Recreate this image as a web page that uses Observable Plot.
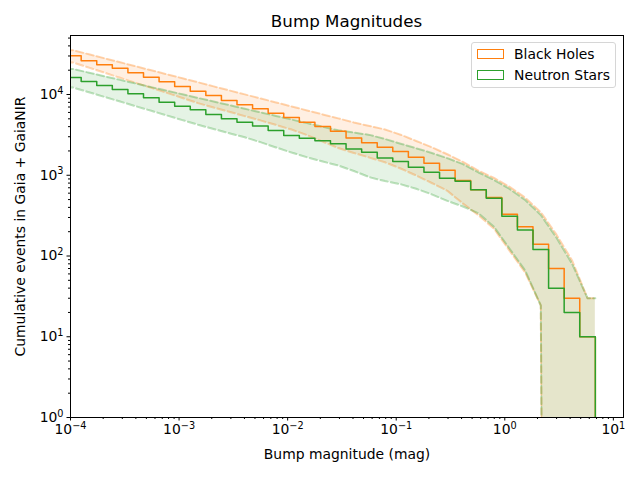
<!DOCTYPE html>
<html>
<head>
<meta charset="utf-8">
<script src="https://cdn.jsdelivr.net/npm/d3@7"></script>
<script src="https://cdn.jsdelivr.net/npm/@observablehq/plot@0.6"></script>
<style>
  body { margin: 0; background: #fff; }
  #wrap { position: relative; width: 640px; height: 480px; font-family: "DejaVu Sans", sans-serif; color: #000; }
  #title { position: absolute; left: 70px; width: 553px; top: 11px; text-align: center; font-size: 16.7px; line-height: 20px; }
  #legend { position: absolute; left: 471px; top: 42px; width: 145px; height: 46px; box-sizing: border-box;
            border: 1px solid #d6d6d6; border-radius: 3px; background: rgba(255,255,255,0.8); font-size: 13.9px; }
  .row { position: absolute; left: 5px; height: 20px; line-height: 20px; white-space: nowrap; }
  .patch { position: absolute; left: 0; top: 5px; width: 27px; height: 10px; box-sizing: border-box; border: 1.5px solid; }
  .lab { position: absolute; left: 37px; top: 0; }
</style>
</head>
<body>
<div id="wrap">
  <div id="title">Bump Magnitudes</div>
  <div id="legend"></div>
</div>
<script>
// ---- data ----
const binEdges = [9.01e-5, 1.254e-4, 1.745e-4, 2.428e-4, 3.380e-4, 4.703e-4, 6.545e-4, 9.109e-4,
  1.268e-3, 1.764e-3, 2.455e-3, 3.416e-3, 4.754e-3, 6.616e-3, 9.205e-3, 0.01281, 0.01783, 0.02481,
  0.03452, 0.04804, 0.06685, 0.09298, 0.1294, 0.1801, 0.2506, 0.3487, 0.4852, 0.6752, 0.9395,
  1.307, 1.819, 2.532, 3.523, 4.902, 6.823];

const seriesNames = ["Black Holes", "Neutron Stars"];
const seriesColors = ["#ff7f0e", "#2ca02c"];

const blackHoles = [30100, 26100, 23300, 21200, 18600, 16400, 14400, 12600, 11000, 9700, 8430, 7450,
  6650, 5870, 5190, 4540, 4020, 3510, 2900, 2520, 2220, 1970, 1670, 1410, 1150, 860, 660, 530, 330,
  230, 140, 70, 30, 10];
const blackHolesUpper = [35260, 31460, 28070, 25050, 22350, 19940, 17790, 15870, 14160, 12600, 11240,
  10030, 8950, 7980, 7120, 6350, 5670, 5060, 4510, 4070, 3690, 3180, 2660, 2220, 1820, 1465, 1140,
  925, 720, 527, 348, 185, 88.7, 30];
const blackHolesLower = [24830, 21530, 18620, 16100, 13960, 12070, 10470, 9060, 7820, 6900, 6110,
  5400, 4780, 4200, 3680, 3140, 2610, 2175, 1890, 1655, 1447, 1213, 993, 802, 642, 447, 319, 217,
  116, 62.3, 24.4, 0, 0, 0];

const neutronStars = [16250, 14500, 12900, 11500, 10200, 9100, 8030, 7170, 6470, 5650, 5000, 4540,
  4060, 3580, 3100, 2870, 2670, 2450, 2120, 1930, 1630, 1480, 1260, 1090, 920, 845, 660, 520, 310,
  210, 120, 40, 20, 10];
const neutronStarsUpper = [20640, 18630, 16800, 15170, 13690, 12350, 11140, 10050, 9070, 8180, 7390,
  6660, 6010, 5430, 4900, 4420, 3990, 3600, 3375, 3160, 2810, 2460, 2160, 1890, 1627, 1375, 1082,
  874, 676, 493, 322, 169, 80.7, 30];
const neutronStarsLower = [12170, 10670, 9340, 8180, 7160, 6280, 5500, 4820, 4220, 3740, 3320, 2950,
  2570, 2210, 1910, 1670, 1480, 1320, 1130, 946, 847, 775, 680, 581, 481, 410, 338, 229, 123, 66,
  24.4, 0, 0, 0];

const xTickValues = [1e-4, 1e-3, 1e-2, 1e-1, 1, 10];
const yTickValues = [1, 10, 100, 1000, 10000];

// ---- build tables ----
const FLOOR = 1e-30; // non-positive values are clipped far below the axis, like matplotlib
const pos = v => (v > 0 ? v : FLOOR);

function stepTable(values) {
  const pts = values.map((v, i) => ({x: binEdges[i], y: v}));
  const last = binEdges[binEdges.length - 1];
  pts.push({x: last, y: values[values.length - 1]});
  pts.push({x: last, y: 0});
  return pts;
}
function bandTable(lo, hi) {
  const pts = [{x: binEdges[0], lo: lo[0], hi: hi[0]}];
  for (let i = 0; i < lo.length; i++) {
    pts.push({x: Math.sqrt(binEdges[i] * binEdges[i + 1]), lo: lo[i], hi: hi[i]});
  }
  pts.push({x: binEdges[binEdges.length - 1], lo: lo[lo.length - 1], hi: hi[hi.length - 1]});
  return pts;
}
const series = [
  {name: seriesNames[0], color: seriesColors[0], step: stepTable(blackHoles), band: bandTable(blackHolesLower, blackHolesUpper)},
  {name: seriesNames[1], color: seriesColors[1], step: stepTable(neutronStars), band: bandTable(neutronStarsLower, neutronStarsUpper)}
];

const minorTicks = (majors, top) => {
  const out = [];
  majors.forEach(m => { for (let k = 2; k <= 9; k++) if (m * k <= top) out.push(m * k); });
  return out;
};
const xDomain = [1e-4, 12.4];
const yDomain = [1, 53800];

const supFmt = d => "10^" + Math.round(Math.log10(d));

const marks = [];
series.forEach(s => {
  marks.push(Plot.areaY(s.band, {x: "x", y1: d => pos(d.lo), y2: d => pos(d.hi), fill: s.color, fillOpacity: 0.12, clip: true}));
});
series.forEach(s => {
  for (const key of ["hi", "lo"]) {
    marks.push(Plot.line(s.band, {x: "x", y: d => pos(d[key]), stroke: s.color, strokeOpacity: 0.32,
      strokeWidth: 2, strokeDasharray: "7.4,3.2", clip: true}));
  }
});
series.forEach(s => {
  marks.push(Plot.line(s.step, {x: "x", y: d => pos(d.y), stroke: s.color, strokeWidth: 1.5, curve: "step-after", clip: true}));
});
marks.push(
  Plot.axisX({ticks: minorTicks(xTickValues.slice(0, -1), xDomain[1]), tickSize: 2, tickFormat: () => "", label: null}),
  Plot.axisX({ticks: xTickValues, tickSize: 3.5, tickPadding: 3.5, tickFormat: supFmt, fontSize: 13.9,
    label: "Bump magnitude (mag)", labelAnchor: "center", labelArrow: "none", labelOffset: 41}),
  Plot.axisY({ticks: minorTicks(yTickValues, yDomain[1]), tickSize: 2, tickFormat: () => "", label: null}),
  Plot.axisY({ticks: yTickValues, tickSize: 3.5, tickPadding: 3.5, tickFormat: supFmt, fontSize: 13.9,
    label: "Cumulative events in Gaia + GaiaNIR", labelAnchor: "center", labelArrow: "none", labelOffset: 55}),
  Plot.frame({stroke: "#000", strokeWidth: 1})
);

const chart = Plot.plot({
  width: 640, height: 480,
  marginLeft: 70, marginRight: 17, marginTop: 35, marginBottom: 63,
  style: {fontFamily: "DejaVu Sans, sans-serif", fontSize: "13.9px", background: "transparent", color: "#000"},
  x: {type: "log", domain: xDomain},
  y: {type: "log", domain: yDomain},
  marks
});
chart.style.position = "absolute";
chart.style.left = "0";
chart.style.top = "0";

// render "10^n" labels as 10 with a superscript exponent
d3.select(chart).selectAll("text").each(function () {
  const m = (this.textContent || "").match(/^10\^(-?\d+)$/);
  if (!m) return;
  this.textContent = "";
  const t = d3.select(this);
  t.append("tspan").text("10");
  t.append("tspan").attr("font-size", "70%").attr("dy", "-0.55em").text(m[1].replace("-", "\u2212"));
});

const wrap = document.getElementById("wrap");
wrap.insertBefore(chart, wrap.firstChild);

// legend
const legend = document.getElementById("legend");
series.forEach((s, i) => {
  const row = document.createElement("div");
  row.className = "row";
  row.style.top = (1 + i * 20.5) + "px";
  const p = document.createElement("span");
  p.className = "patch";
  p.style.borderColor = s.color;
  const l = document.createElement("span");
  l.className = "lab";
  l.textContent = s.name;
  row.appendChild(p); row.appendChild(l);
  legend.appendChild(row);
});
</script>
</body>
</html>
